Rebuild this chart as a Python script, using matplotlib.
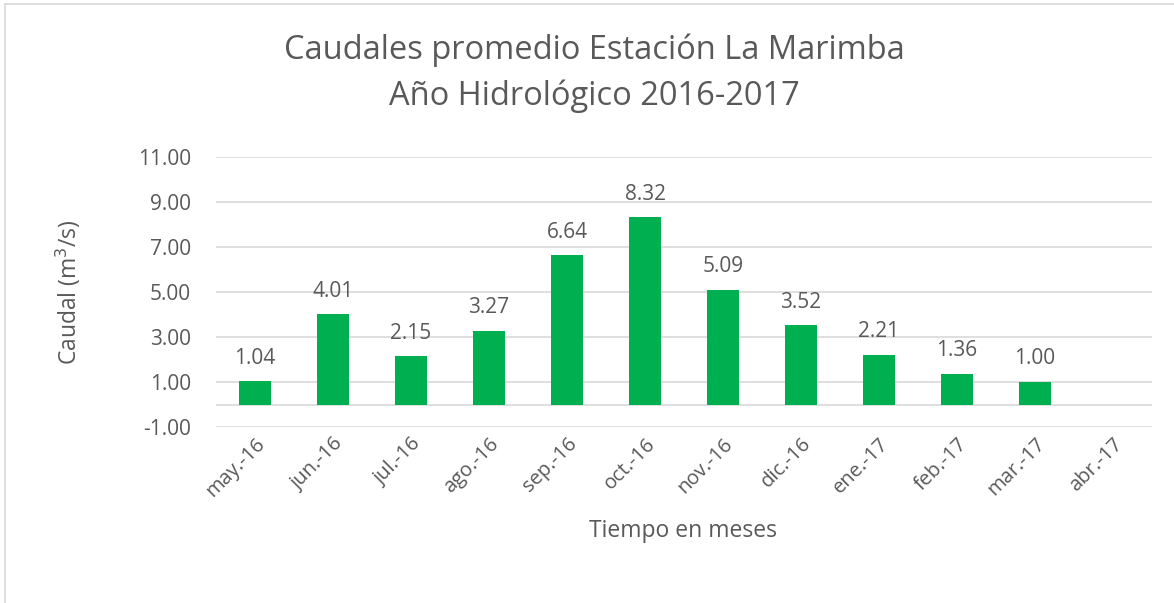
import matplotlib
matplotlib.use("Agg")
import matplotlib.pyplot as plt
from matplotlib.lines import Line2D

months = ["may.-16", "jun.-16", "jul.-16", "ago.-16", "sep.-16", "oct.-16",
          "nov.-16", "dic.-16", "ene.-17", "feb.-17", "mar.-17", "abr.-17"]
caudal = [1.04, 4.01, 2.15, 3.27, 6.64, 8.32, 5.09, 3.52, 2.21, 1.36, 1.00, None]
yticks = [-1, 1, 3, 5, 7, 9, 11]

GREEN = "#00b050"
TEXT = "#595959"
GRID = "#d9d9d9"

plt.rcParams["font.family"] = ["Open Sans", "DejaVu Sans"]

fig = plt.figure(figsize=(11.74, 6.03), dpi=100)
ax = fig.add_axes([216 / 1174, 1 - 427 / 603, (1152 - 216) / 1174, (427 - 157) / 603])

x = list(range(len(months)))
vals = [v if v is not None else 0 for v in caudal]
ax.bar(x, vals, width=0.4, color=GREEN, zorder=3)
for xi, v in zip(x, caudal):
    if v is None:
        continue
    ax.annotate(f"{v:.2f}", (xi, v), xytext=(0, 9), textcoords="offset points",
                ha="center", va="bottom", fontsize=15, color=TEXT)

ax.set_xlim(-0.5, len(months) - 0.5)
ax.set_ylim(-1, 11)
ax.set_yticks(yticks)
ax.set_yticklabels([f"{t:.2f}" for t in yticks], fontsize=15, color=TEXT)
ax.set_xticks(x)
ax.set_xticklabels(months, rotation=45, ha="right", va="top", rotation_mode="anchor",
                   fontsize=14.5, color=TEXT)
ax.tick_params(axis="y", length=0, pad=18)
ax.tick_params(axis="x", length=0, pad=5)
ax.grid(axis="y", color=GRID, lw=1.2, zorder=0)
ax.axhline(0, color=GRID, lw=1.2, zorder=1)
for s in ax.spines.values():
    s.set_visible(False)

ax.set_ylabel("Caudal (m$^3$/s)", fontsize=16.5, color=TEXT)
ax.yaxis.set_label_coords(-(216 - 83) / 936, 0.5)

fig.text(683 / 1174, 1 - 531 / 603, "Tiempo en meses", ha="center", va="center",
         fontsize=16.5, color=TEXT)
fig.text(594 / 1174, 1 - 50 / 603, "Caudales promedio Estación La Marimba", ha="center",
         va="center", fontsize=23.5, color=TEXT)
fig.text(594 / 1174, 1 - 96 / 603, "Año Hidrológico 2016-2017", ha="center",
         va="center", fontsize=23.5, color=TEXT)

# chart frame (top and left edges visible)
fig.add_artist(Line2D([5 / 1174, 1], [1 - 4 / 603, 1 - 4 / 603], color=GRID, lw=1.2))
fig.add_artist(Line2D([5 / 1174, 5 / 1174], [0, 1 - 4 / 603], color=GRID, lw=1.2))

fig.savefig("out.png", dpi=100)
